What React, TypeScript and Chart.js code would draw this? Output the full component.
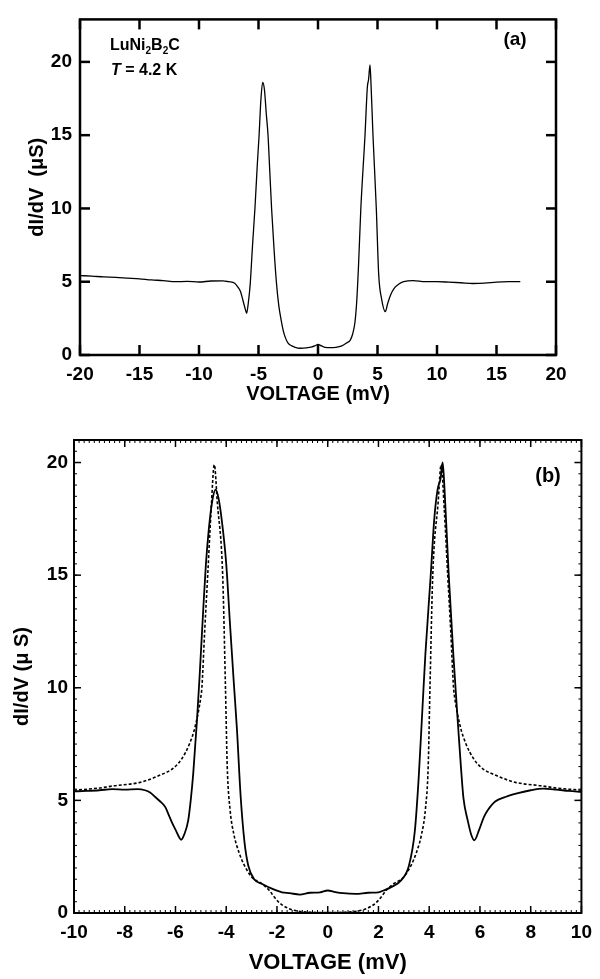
import React, { useEffect, useRef } from "react";
import { Chart, registerables } from "chart.js";

Chart.register(...registerables);

const FONT = "'Liberation Sans', Arial, Helvetica, sans-serif";

// ---------- Panel (a): LuNi2B2C, T = 4.2 K ----------
const aVoltage = [
  -20, -19, -18, -17, -16, -15, -14, -13, -12, -11, -10, -9, -8, -7.5, -7, -6.7, -6.5, -6.3, -6.1, -6.0,
  -5.85, -5.7, -5.5, -5.3, -5.1, -4.95, -4.8, -4.65, -4.5, -4.35, -4.2, -4.05, -3.9, -3.7, -3.5, -3.3,
  -3.1, -2.9, -2.7, -2.5, -2.2, -2.0, -1.5, -1.0, -0.5, -0.2, 0, 0.3, 0.6, 1.0, 1.5, 2.0, 2.4, 2.7, 2.9,
  3.1, 3.25, 3.4, 3.6, 3.95, 4.15, 4.25, 4.37, 4.45, 4.62, 4.9, 5.1, 5.35, 5.66, 5.85, 6.1, 6.4, 6.8,
  7.2, 8, 9, 10, 11, 12, 13, 14, 15, 16, 17,
];
const aConductance = [
  5.42, 5.38, 5.33, 5.3, 5.25, 5.2, 5.12, 5.08, 5.0, 5.02, 4.98, 5.05, 5.06, 5.0, 4.9, 4.6, 4.3, 3.7, 3.1, 2.85,
  3.6, 4.8, 7.5, 10, 13, 15, 17.4, 18.6, 18.1, 16.5, 15, 12.5, 10, 7.3, 5, 3.4,
  2.4, 1.6, 1.1, 0.8, 0.62, 0.55, 0.46, 0.48, 0.55, 0.65, 0.72, 0.62, 0.52, 0.5, 0.52, 0.62, 0.82, 1.0, 1.4,
  2.2, 3.6, 6, 10, 15, 18.3, 18.8, 19.8, 18.6, 15, 10, 5.5, 3.8, 2.96, 3.5, 4.1, 4.55, 4.85,
  5.0, 5.07, 5.0, 5.0, 4.97, 4.93, 4.88, 4.9, 4.97, 5.0, 5.0,
];

// ---------- Panel (b): experiment (solid) and fit (dotted) ----------
const bVoltageExp = [
  -10, -9.5, -9, -8.5, -8, -7.5, -7.2, -7.0, -6.8, -6.6, -6.4, -6.3, -6.15, -6.0, -5.85, -5.78, -5.65, -5.5,
  -5.4, -5.3, -5.15, -5.05, -4.9, -4.8, -4.69, -4.55, -4.42, -4.3, -4.15, -4.0, -3.85, -3.7, -3.58, -3.43,
  -3.28, -3.13, -2.9, -2.6, -2.2, -1.8, -1.5, -1.1, -0.7, -0.3, 0, 0.3, 0.6, 1.1, 1.6, 2.0, 2.2, 2.5, 2.9,
  3.2, 3.43, 3.58, 3.73, 3.85, 4.06, 4.2, 4.33, 4.45, 4.53, 4.6, 4.77, 4.95, 5.12, 5.25, 5.35, 5.52, 5.65,
  5.78, 5.97, 6.15, 6.3, 6.6, 7.0, 7.5, 8.0, 8.5, 9.0, 9.5, 10.0,
];
const bCondExp = [
  5.4, 5.42, 5.45, 5.5, 5.48, 5.5, 5.45, 5.35, 5.15, 4.95, 4.7, 4.45, 4.05, 3.7, 3.35, 3.25, 3.5, 4.1,
  5.0, 6.2, 8.6, 10.5, 13.6, 15.5, 17, 18.3, 18.8, 18.4, 17.2, 15.5, 12.8, 10.2, 8.2, 5.15,
  3.15, 2.1, 1.5, 1.3, 1.08, 0.92, 0.88, 0.82, 0.9, 0.92, 1.0, 0.93, 0.88, 0.85, 0.9, 0.92, 1.0, 1.15, 1.46,
  2.1, 3.6, 5.9, 9.0, 11.5, 15, 17.5, 18.8, 19.3, 20.0, 18.9, 15, 11.5, 8.6, 6.5, 5.1, 4.1, 3.5,
  3.23, 3.7, 4.25, 4.55, 4.95, 5.15, 5.32, 5.45, 5.52, 5.48, 5.42, 5.38,
];
const bVoltageFit = [
  -10, -9, -8.4, -7.4, -6.65, -6.05, -5.75, -5.45, -5.22, -5.0, -4.96, -4.85, -4.73, -4.6, -4.47, -4.35,
  -4.14, -4.03, -3.96, -3.85, -3.7, -3.5, -3.3, -3.0, -2.6, -2.3, -2.1, -1.9, -1.6, -1.2, -0.6, 0,
  0.6, 1.2, 1.6, 1.9, 2.1, 2.3, 2.6, 3.0, 3.3, 3.5, 3.7, 3.85, 3.96, 4.03, 4.14, 4.35, 4.47, 4.6, 4.73,
  4.85, 4.96, 5.0, 5.22, 5.45, 5.75, 6.05, 6.65, 7.4, 8.4, 9, 10,
];
const bCondFit = [
  5.45, 5.55, 5.65, 5.8, 6.1, 6.46, 6.85, 7.5, 8.3, 9.6, 10, 12.5, 15, 17.8, 19.9, 18.2,
  15, 10, 6.5, 4.6, 3.5, 2.7, 2.15, 1.6, 1.3, 1.0, 0.7, 0.45, 0.23, 0.09, 0.03, 0.02,
  0.03, 0.09, 0.23, 0.45, 0.7, 1.0, 1.3, 1.6, 2.15, 2.7, 3.5, 4.6, 6.5, 10, 15, 18.2, 19.9, 17.8, 15,
  12.5, 10, 9.6, 8.3, 7.5, 6.85, 6.46, 6.1, 5.8, 5.65, 5.55, 5.45,
];

const toPoints = (xs: number[], ys: number[]) => xs.map((x, i) => ({ x, y: ys[i] }));

// Frame + inward ticks on all four sides, placed via the chart's scales
const framePlugin = {
  id: "frame",
  afterDraw(chart: any, _args: any, opts: any) {
    const { ctx, chartArea: a, scales } = chart;
    const sx = scales.x;
    const sy = scales.y;
    ctx.save();
    ctx.strokeStyle = "#000";
    const line = (x1: number, y1: number, x2: number, y2: number) => {
      ctx.beginPath();
      ctx.moveTo(x1, y1);
      ctx.lineTo(x2, y2);
      ctx.stroke();
    };
    const ticks = (scale: any, step: number, len: number, isX: boolean, w: number) => {
      if (!step) return;
      ctx.lineWidth = w;
      const n0 = Math.ceil(scale.min / step - 1e-6);
      const n1 = Math.floor(scale.max / step + 1e-6);
      for (let i = n0; i <= n1; i++) {
        const p = scale.getPixelForValue(i * step);
        if (isX) {
          line(p, a.bottom, p, a.bottom - len);
          line(p, a.top, p, a.top + len);
        } else {
          line(a.left, p, a.left + len, p);
          line(a.right, p, a.right - len, p);
        }
      }
    };
    ticks(sx, opts.xMinor, opts.minorLen, true, opts.minorWidth);
    ticks(sy, opts.yMinor, opts.minorLen, false, opts.minorWidth);
    ticks(sx, opts.xMajor, opts.majorLen, true, opts.majorWidth);
    ticks(sy, opts.yMajor, opts.majorLen, false, opts.majorWidth);
    ctx.lineWidth = opts.frameWidth;
    ctx.strokeRect(a.left, a.top, a.right - a.left, a.bottom - a.top);
    ctx.restore();
  },
};

type Seg = { t: string; sub?: boolean; italic?: boolean };
const drawRich = (ctx: CanvasRenderingContext2D, segs: Seg[], x: number, y: number, size: number) => {
  let cx = x;
  ctx.textBaseline = "alphabetic";
  ctx.textAlign = "left";
  for (const s of segs) {
    const fs = s.sub ? Math.round(size * 0.65) : size;
    ctx.font = `${s.italic ? "italic " : ""}bold ${fs}px ${FONT}`;
    ctx.fillText(s.t, cx, s.sub ? y + size * 0.25 : y);
    cx += ctx.measureText(s.t).width;
  }
};

const labelsA = {
  id: "labelsA",
  afterDraw(chart: any) {
    const ctx = chart.ctx as CanvasRenderingContext2D;
    ctx.save();
    ctx.fillStyle = "#000";
    drawRich(ctx, [{ t: "LuNi" }, { t: "2", sub: true }, { t: "B" }, { t: "2", sub: true }, { t: "C" }], 110, 50, 16);
    drawRich(ctx, [{ t: "T", italic: true }, { t: " = 4.2 K" }], 111, 75, 16);
    ctx.font = `bold 19px ${FONT}`;
    ctx.textAlign = "center";
    ctx.textBaseline = "middle";
    ctx.fillText("(a)", 515, 40);
    ctx.restore();
  },
};

const labelsB = {
  id: "labelsB",
  afterDraw(chart: any) {
    const ctx = chart.ctx as CanvasRenderingContext2D;
    ctx.save();
    ctx.fillStyle = "#000";
    ctx.font = `bold 20px ${FONT}`;
    ctx.textAlign = "center";
    ctx.textBaseline = "middle";
    ctx.fillText("(b)", 548, 56);
    ctx.restore();
  },
};

function makeAxes(o: any) {
  return {
    x: {
      type: "linear",
      min: o.xMin,
      max: o.xMax,
      afterFit: (s: any) => {
        s.height = o.xHeight;
      },
      grid: { display: false, drawTicks: false },
      border: { display: false },
      ticks: {
        stepSize: o.xStep,
        autoSkip: false,
        maxRotation: 0,
        padding: o.xTickPad,
        color: "#000",
        font: { family: FONT, size: o.tickSize, weight: "bold" },
      },
      title: {
        display: true,
        text: "VOLTAGE (mV)",
        color: "#000",
        padding: { top: 0, bottom: o.xTitlePad },
        font: { family: FONT, size: o.xTitleSize, weight: "bold" },
      },
    },
    y: {
      type: "linear",
      min: 0,
      max: o.yMax,
      afterFit: (s: any) => {
        s.width = o.yWidth;
      },
      grid: { display: false, drawTicks: false },
      border: { display: false },
      ticks: {
        stepSize: 5,
        includeBounds: false,
        padding: o.yTickPad,
        color: "#000",
        font: { family: FONT, size: o.tickSize, weight: "bold" },
      },
      title: {
        display: true,
        text: o.yTitle,
        color: "#000",
        padding: { top: o.yTitlePad, bottom: 0 },
        font: { family: FONT, size: o.yTitleSize, weight: "bold" },
      },
    },
  };
}

function PanelA() {
  const ref = useRef<HTMLCanvasElement>(null);
  useEffect(() => {
    const chart = new Chart(ref.current!, {
      type: "line",
      data: {
        datasets: [
          {
            data: toPoints(aVoltage, aConductance),
            borderColor: "#000",
            borderWidth: 1.3,
            pointRadius: 0,
            cubicInterpolationMode: "monotone",
          },
        ],
      },
      options: {
        responsive: false,
        animation: false,
        events: [],
        layout: { padding: { left: 0, right: 44, top: 5, bottom: 0 } },
        plugins: {
          legend: { display: false },
          tooltip: { enabled: false },
          frame: {
            xMajor: 5, yMajor: 5, xMinor: 0, yMinor: 0,
            majorLen: 10, minorLen: 0, majorWidth: 2.5, minorWidth: 1, frameWidth: 2.5,
          },
        } as any,
        scales: makeAxes({
          xMin: -20, xMax: 20, xStep: 5, xHeight: 55, xTickPad: 8, xTitlePad: 4,
          yMax: 22.9, yWidth: 80, yTickPad: 8, tickSize: 19, xTitleSize: 20,
          yTitle: "dI/dV  (μS)", yTitleSize: 20, yTitlePad: 25,
        }) as any,
      },
      plugins: [framePlugin, labelsA],
    });
    return () => chart.destroy();
  }, []);
  return <canvas ref={ref} width={600} height={410} style={{ position: "absolute", left: 0, top: 0, display: "block" }} />;
}

function PanelB() {
  const ref = useRef<HTMLCanvasElement>(null);
  useEffect(() => {
    const chart = new Chart(ref.current!, {
      type: "line",
      data: {
        datasets: [
          {
            data: toPoints(bVoltageExp, bCondExp),
            borderColor: "#000",
            borderWidth: 1.8,
            pointRadius: 0,
            cubicInterpolationMode: "monotone",
          },
          {
            data: toPoints(bVoltageFit, bCondFit),
            borderColor: "#000",
            borderWidth: 1.6,
            borderDash: [3, 2],
            pointRadius: 0,
            cubicInterpolationMode: "monotone",
          },
        ],
      },
      options: {
        responsive: false,
        animation: false,
        events: [],
        layout: { padding: { left: 0, right: 12, top: 20, bottom: 0 } },
        plugins: {
          legend: { display: false },
          tooltip: { enabled: false },
          frame: {
            xMajor: 2, yMajor: 5, xMinor: 0.2, yMinor: 0.5,
            majorLen: 7, minorLen: 3, majorWidth: 1.5, minorWidth: 1, frameWidth: 2,
          },
        } as any,
        scales: makeAxes({
          xMin: -10, xMax: 10, xStep: 2, xHeight: 66, xTickPad: 8, xTitlePad: 3,
          yMax: 21, yWidth: 74, yTickPad: 6, tickSize: 19, xTitleSize: 22,
          yTitle: "dI/dV (μ S)", yTitleSize: 20, yTitlePad: 10,
        }) as any,
      },
      plugins: [framePlugin, labelsB],
    });
    return () => chart.destroy();
  }, []);
  return <canvas ref={ref} width={600} height={559} style={{ position: "absolute", left: 0, top: 420, display: "block" }} />;
}

export default function App() {
  return (
    <div style={{ position: "absolute", left: 0, top: 0, width: 600, height: 979, background: "#fff", overflow: "hidden" }}>
      <PanelA />
      <PanelB />
    </div>
  );
}
